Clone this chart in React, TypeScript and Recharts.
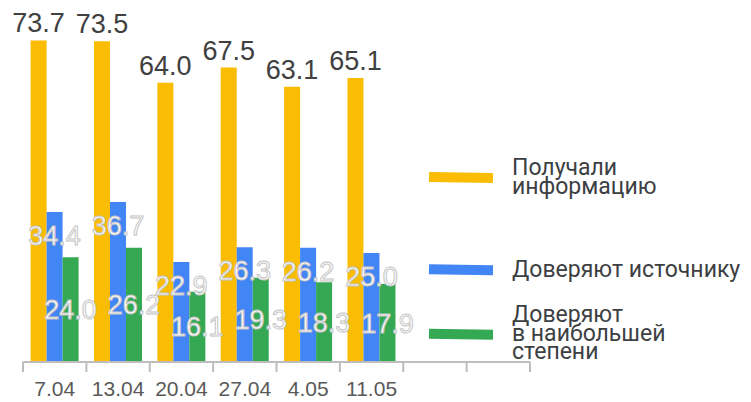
import { BarChart, Bar, XAxis, YAxis, Legend, LabelList } from 'recharts';

const dates = ['7.04', '13.04', '20.04', '27.04', '4.05', '11.05', '', ''];
const received = [73.7, 73.5, 64.0, 67.5, 63.1, 65.1, null, null];
const trustSource = [34.4, 36.7, 22.9, 26.3, 26.2, 25.0, null, null];
const trustMost = [24.0, 26.2, 16.1, 19.3, 18.3, 17.9, null, null];

const seriesKeys = ['received', 'trustSource', 'trustMost'];
const seriesNames = ['Получали\nинформацию', 'Доверяют источнику', 'Доверяют\nв наибольшей\nстепени'];
const seriesColors = ['#FBBC04', '#4285F4', '#34A853'];

const data = dates.map((date, i) => ({
  slot: i,
  date,
  received: received[i],
  trustSource: trustSource[i],
  trustMost: trustMost[i],
}));

const W = 751;
const H = 402;
const margin = { top: 13, right: 221, bottom: 0, left: 23 };
const slotWidth = (W - margin.left - margin.right) / dates.length;

const labelFont = '"Liberation Sans", Arial, sans-serif';
const axisGray = '#bdbdbd';

function DateTick(props: any) {
  const { x, y, index } = props;
  const half = slotWidth / 2;
  return (
    <g>
      <line x1={x - half} y1={y} x2={x - half} y2={y + 10} stroke={axisGray} strokeWidth={2} />
      {index === dates.length - 1 && (
        <line x1={x + half} y1={y} x2={x + half} y2={y + 10} stroke={axisGray} strokeWidth={2} />
      )}
      <text x={x} y={y + 34} textAnchor="middle" fontSize={21} fontFamily={labelFont} fill="#595959">
        {dates[index]}
      </text>
    </g>
  );
}

// legend entry centres, relative to the legend box
const legendCenters = [27, 120, 184];

function renderLegend() {
  return (
    <div style={{ position: 'relative', width: 322, height: 220 }}>
      {seriesNames.map((name, i) => (
        <div
          key={name}
          style={{
            position: 'absolute',
            left: 0,
            top: legendCenters[i],
            transform: 'translateY(-50%)',
            display: 'flex',
            alignItems: 'center',
          }}
        >
          <div
            style={{
              width: 64,
              height: 10,
              background: seriesColors[i],
              transform: 'rotate(1deg)',
            }}
          />
          <div
            style={{
              marginLeft: 19,
              fontFamily: 'Roboto, sans-serif',
              fontSize: 23,
              lineHeight: '18.5px',
              color: '#3c4043',
              whiteSpace: 'pre-line',
            }}
          >
            {name}
          </div>
        </div>
      ))}
    </div>
  );
}

const fmt = (v: any) => (v == null ? '' : Number(v).toFixed(1));

export default function App() {
  return (
    <div style={{ position: 'absolute', left: 0, top: 0, width: W, height: H, background: '#fff' }}>
      <BarChart width={W} height={H} data={data} margin={margin} barCategoryGap="12%" barGap={0}>
        <XAxis
          dataKey="slot"
          type="category"
          interval={0}
          height={40}
          tickLine={false}
          tickSize={0}
          tickMargin={0}
          axisLine={{ stroke: axisGray, strokeWidth: 2 }}
          tick={<DateTick />}
        />
        <YAxis hide domain={[0, 80]} />
        <Legend
          layout="horizontal"
          verticalAlign="middle"
          align="center"
          wrapperStyle={{ left: 429, top: 150, width: 322, height: 220 }}
          content={renderLegend}
        />
        <Bar dataKey={seriesKeys[0]} fill={seriesColors[0]} isAnimationActive={false}>
          <LabelList
            dataKey={seriesKeys[0]}
            position="top"
            offset={8}
            formatter={fmt}
            fill="#404040"
            fontSize={27}
            fontFamily={labelFont}
          />
        </Bar>
        <Bar dataKey={seriesKeys[1]} fill={seriesColors[1]} isAnimationActive={false}>
          <LabelList
            dataKey={seriesKeys[1]}
            position="insideTop"
            offset={14}
            formatter={fmt}
            fill="#ffffff"
            stroke="#c4c4c4"
            strokeWidth={1}
            fontSize={27}
            fontFamily={labelFont}
          />
        </Bar>
        <Bar dataKey={seriesKeys[2]} fill={seriesColors[2]} isAnimationActive={false}>
          <LabelList
            dataKey={seriesKeys[2]}
            position="center"
            formatter={fmt}
            fill="#ffffff"
            stroke="#c4c4c4"
            strokeWidth={1}
            fontSize={27}
            fontFamily={labelFont}
          />
        </Bar>
      </BarChart>
    </div>
  );
}
